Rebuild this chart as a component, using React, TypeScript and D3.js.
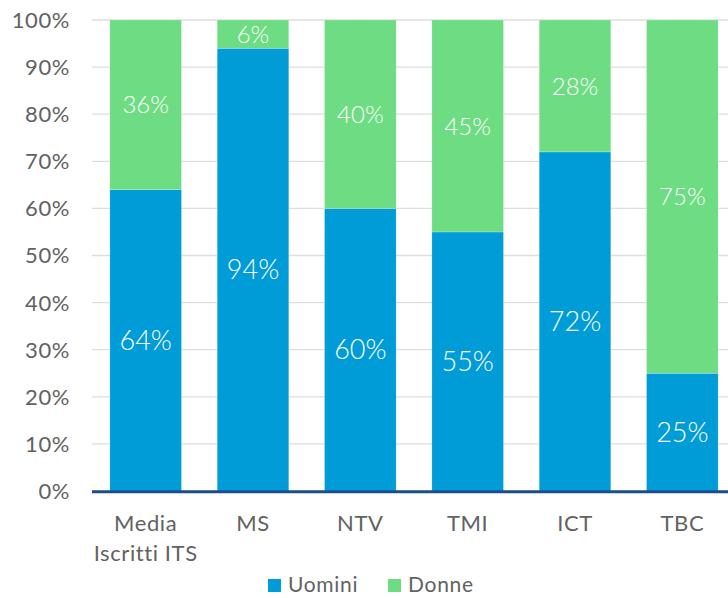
import React, { useEffect, useRef } from 'react';
import * as d3 from 'd3';

const categories = [['Media', 'Iscritti ITS'], ['MS'], ['NTV'], ['TMI'], ['ICT'], ['TBC']];
const uomini = [64, 94, 60, 55, 72, 25];
const donne = [36, 6, 40, 45, 28, 75];
const yTicks = [0, 10, 20, 30, 40, 50, 60, 70, 80, 90, 100];
const seriesNames = ['Uomini', 'Donne'];
const colors = ['#009CD8', '#6EDC82'];

const width = 728;
const height = 598;
const font = 'Lato, "Noto Sans", sans-serif';

function App() {
    const ref = useRef<SVGSVGElement>(null);

    useEffect(() => {
        drawChart();
    });

    function drawChart() {
        const svg = d3.select(ref.current);
        svg.selectAll('*').remove();

        const x = d3
            .scaleBand()
            .domain(categories.map((_, i) => String(i)))
            .range([92, 736])
            .paddingInner(0.333)
            .paddingOuter(0.1665);

        const y = d3.scaleLinear().domain([0, 100]).range([491, 20]);

        // gridlines
        svg.append('g')
            .selectAll('line')
            .data(yTicks.filter((t) => t > 0))
            .enter()
            .append('line')
            .attr('x1', 92)
            .attr('x2', width)
            .attr('y1', (d) => y(d))
            .attr('y2', (d) => y(d))
            .style('stroke', '#dedede')
            .style('stroke-width', 1.3);

        // y tick labels
        svg.append('g')
            .selectAll('text')
            .data(yTicks)
            .enter()
            .append('text')
            .attr('x', 70)
            .attr('y', (d) => y(d))
            .attr('dy', '0.36em')
            .attr('text-anchor', 'end')
            .style('font-family', font)
            .style('font-size', '22px')
            .style('letter-spacing', '0.6px')
            .style('fill', '#626262')
            .text((d) => d + '%');

        const stacks = [uomini, donne];
        stacks.forEach((vals, s) => {
            const g = svg.append('g');
            const base = (i: number) => (s === 0 ? 0 : uomini[i]);
            g.selectAll('rect')
                .data(vals)
                .enter()
                .append('rect')
                .attr('x', (_, i) => x(String(i)) as number)
                .attr('width', x.bandwidth())
                .attr('y', (d, i) => y(base(i) + d))
                .attr('height', (d, i) => y(base(i)) - y(base(i) + d))
                .style('fill', colors[s])
                .style('stroke', 'rgba(255,255,255,0.35)')
                .style('stroke-width', 0.6);

            g.selectAll('text')
                .data(vals)
                .enter()
                .append('text')
                .attr('x', (_, i) => (x(String(i)) as number) + x.bandwidth() / 2)
                .attr('y', (d, i) => y(base(i) + d / 2))
                .attr('dy', '0.36em')
                .attr('text-anchor', 'middle')
                .style('font-family', font)
                .style('font-weight', 300)
                .style('font-size', s === 0 ? '27px' : '24px')
                .style('fill', '#ffffff')
                .text((d) => d + '%');
        });

        // x axis line
        svg.append('line')
            .attr('x1', 92)
            .attr('x2', width)
            .attr('y1', 491.7)
            .attr('y2', 491.7)
            .style('stroke', '#1B4D8C')
            .style('stroke-width', 3);

        // category labels
        const cat = svg.append('g')
            .selectAll('text')
            .data(categories)
            .enter()
            .append('text')
            .attr('text-anchor', 'middle')
            .style('font-family', font)
            .style('font-size', '22px')
            .style('letter-spacing', '0.6px')
            .style('fill', '#626262');
        cat.each(function (lines, i) {
            const t = d3.select(this);
            lines.forEach((line, j) => {
                t.append('tspan')
                    .attr('x', (x(String(i)) as number) + x.bandwidth() / 2)
                    .attr('y', 531 + j * 30)
                    .text(line);
            });
        });

        // legend
        const legendX = [268, 388];
        const legend = svg.append('g')
            .selectAll('g')
            .data(seriesNames)
            .enter()
            .append('g')
            .attr('transform', (_, i) => `translate(${legendX[i]}, 0)`);
        legend.append('rect')
            .attr('x', 0)
            .attr('y', 579)
            .attr('width', 13)
            .attr('height', 13)
            .style('fill', (_, i) => colors[i]);
        legend.append('text')
            .attr('x', 20)
            .attr('y', 592)
            .style('font-family', font)
            .style('font-size', '21px')
            .style('letter-spacing', '0.7px')
            .style('fill', '#626262')
            .text((d) => d);
    }

    return (
        <svg
            ref={ref}
            width={width}
            height={height}
            style={{ position: 'absolute', left: 0, top: 0, overflow: 'hidden', background: '#fff' }}
        />
    );
}

export default App;
